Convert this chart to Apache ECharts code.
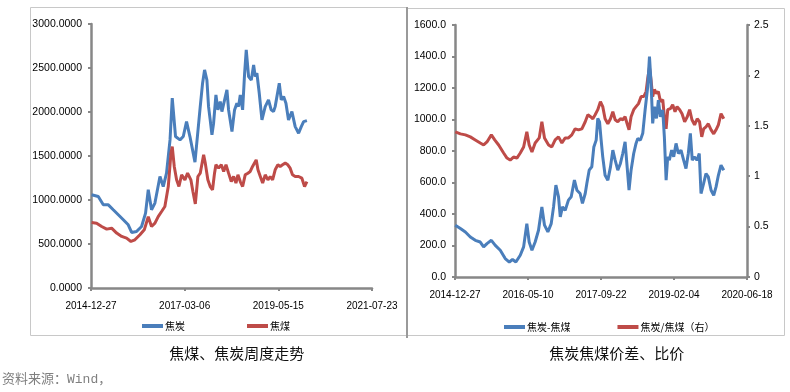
<!DOCTYPE html>
<html>
<head>
<meta charset="utf-8">
<script src="https://cdn.jsdelivr.net/npm/echarts@6/dist/echarts.min.js"></script>
<style>
html,body{margin:0;padding:0;background:#fff;}
#c{width:790px;height:392px;}
</style>
</head>
<body>
<div id="c"></div>
<script>
// ---- data (x = days since 2014-12-27, weekly prices) ----
const startDate = '2014-12-27';
const leftTickStep = 800;   // 2014-12-27, 2017-03-06, 2019-05-15, 2021-07-23
const rightTickStep = 500;  // 2014-12-27, 2016-05-10, 2017-09-22, 2019-02-04, 2020-06-18

const cokePrice = [[5,1059],[62,1040],[105,945],[148,945],[190,889],[233,832],[276,775],[318,718],[347,631],[389,642],[432,699],[466,851],[489,1116],[517,889],[546,965],[589,1267],[617,1153],[645,1305],[675,1683],[694,2157],[722,1721],[760,1683],[788,1721],[816,1891],[845,1721],[888,1430],[933,2061],[953,2327],[970,2478],[990,2364],[1004,2061],[1018,1910],[1033,1740],[1047,1873],[1067,2194],[1084,2024],[1104,2118],[1118,2005],[1141,2137],[1161,2251],[1175,2024],[1204,1778],[1226,2024],[1246,2100],[1260,2061],[1275,2194],[1295,2024],[1312,2440],[1326,2705],[1346,2402],[1369,2364],[1389,2534],[1403,2402],[1417,2440],[1437,2213],[1460,1910],[1488,2061],[1516,2137],[1539,2024],[1559,2005],[1573,2061],[1608,2327],[1625,2137],[1645,2175],[1665,2100],[1687,1910],[1716,2005],[1744,1834],[1773,1759],[1796,1834],[1816,1891],[1844,1902]];

const coalPrice = [[5,745],[48,737],[91,699],[134,669],[176,680],[219,624],[262,586],[304,567],[341,529],[375,548],[418,605],[455,661],[489,809],[517,699],[546,737],[574,812],[603,869],[631,926],[660,1153],[683,1532],[694,1607],[711,1381],[731,1229],[751,1153],[774,1286],[802,1229],[825,1305],[853,1229],[870,1100],[891,955],[913,1267],[933,1305],[962,1513],[976,1419],[998,1229],[1018,1153],[1038,1116],[1055,1305],[1067,1400],[1090,1362],[1113,1400],[1133,1324],[1153,1400],[1175,1305],[1198,1210],[1218,1267],[1238,1192],[1255,1286],[1275,1210],[1295,1153],[1317,1286],[1340,1305],[1360,1324],[1380,1381],[1397,1400],[1411,1456],[1426,1343],[1446,1267],[1466,1192],[1488,1286],[1511,1229],[1531,1267],[1551,1229],[1573,1343],[1596,1400],[1616,1381],[1636,1400],[1659,1419],[1681,1400],[1701,1362],[1721,1286],[1744,1267],[1773,1267],[1801,1248],[1824,1153],[1844,1210]];

const spread = [[2,329],[37,308],[71,286],[105,254],[139,233],[173,222],[196,191],[219,212],[249,233],[276,201],[310,170],[344,117],[372,95],[394,111],[417,95],[447,138],[470,191],[492,339],[508,222],[527,170],[549,222],[572,297],[595,445],[613,329],[636,286],[659,339],[675,445],[691,583],[709,509],[721,381],[736,445],[755,424],[777,488],[796,509],[818,615],[835,551],[857,530],[873,467],[892,530],[903,593],[919,678],[937,700],[951,826],[967,869],[978,1007],[990,985],[1001,869],[1012,763],[1028,646],[1047,615],[1065,699],[1081,805],[1097,742],[1115,678],[1133,721],[1149,784],[1165,858],[1179,699],[1192,551],[1206,678],[1224,784],[1240,848],[1252,880],[1270,869],[1286,912],[1302,1060],[1320,1208],[1332,1400],[1343,1229],[1354,975],[1366,1081],[1380,1007],[1393,1123],[1407,1017],[1423,1060],[1434,890],[1446,615],[1457,763],[1468,742],[1484,805],[1498,763],[1514,848],[1530,784],[1548,805],[1566,742],[1582,689],[1598,784],[1612,912],[1625,742],[1639,763],[1657,742],[1673,784],[1685,530],[1703,594],[1719,657],[1735,636],[1754,551],[1772,519],[1788,572],[1804,646],[1822,710],[1841,678]];

const ratio = [[2,1.44],[37,1.42],[71,1.41],[105,1.39],[139,1.36],[173,1.33],[196,1.31],[219,1.34],[249,1.41],[272,1.36],[299,1.31],[333,1.23],[356,1.18],[378,1.16],[401,1.19],[424,1.18],[447,1.23],[470,1.29],[492,1.44],[508,1.31],[527,1.24],[549,1.33],[577,1.38],[595,1.54],[613,1.38],[641,1.31],[663,1.29],[686,1.36],[709,1.39],[732,1.33],[755,1.38],[777,1.38],[800,1.41],[823,1.47],[846,1.46],[869,1.47],[892,1.54],[910,1.61],[928,1.59],[944,1.57],[960,1.61],[978,1.66],[996,1.74],[1012,1.69],[1028,1.57],[1047,1.52],[1065,1.57],[1081,1.64],[1097,1.56],[1115,1.54],[1133,1.57],[1149,1.56],[1165,1.59],[1179,1.52],[1192,1.46],[1206,1.59],[1224,1.66],[1240,1.69],[1257,1.72],[1275,1.79],[1293,1.79],[1309,1.84],[1320,1.97],[1332,2.08],[1343,1.95],[1354,1.79],[1366,1.86],[1380,1.82],[1393,1.84],[1407,1.74],[1423,1.76],[1434,1.59],[1446,1.47],[1457,1.66],[1475,1.67],[1491,1.71],[1507,1.64],[1521,1.69],[1539,1.66],[1555,1.62],[1573,1.54],[1591,1.59],[1607,1.66],[1623,1.56],[1641,1.51],[1659,1.57],[1675,1.54],[1690,1.39],[1703,1.47],[1719,1.49],[1735,1.52],[1754,1.46],[1772,1.42],[1788,1.46],[1804,1.51],[1822,1.62],[1841,1.57]];

const leftTitle = '焦煤、焦炭周度走势';
const rightTitle = '焦炭焦煤价差、比价';
const sourceNote = '资料来源：Wind，';

// ---- chart ----
const BLUE = '#4A7EBB', RED = '#BE4B48', AX = '#878787';
const numFont = "'Liberation Sans Narrow','Arial Narrow','Liberation Sans',sans-serif";
const cjkFont = "'Noto Sans CJK SC','Liberation Sans',sans-serif";
const base = Date.UTC(2014, 11, 27);
function dayLabel(d){ return new Date(base + d * 864e5).toISOString().slice(0, 10); }

function xAxis(grid, max, step){
  return {type:'value', gridIndex:grid, min:0, max:max, interval:step,
    axisLine:{show:true, lineStyle:{color:AX, width:2.5}},
    axisTick:{show:true, length:3, lineStyle:{color:AX, width:2}},
    splitLine:{show:false},
    axisLabel:{formatter:dayLabel, color:'#000', fontSize:10, fontFamily:numFont, margin:13}};
}
function yAxis(grid, max, step, dec, pos){
  return {type:'value', gridIndex:grid, min:0, max:max, interval:step, position:pos||'left',
    axisLine:{show:true, lineStyle:{color:AX, width:2.5}},
    axisTick:{show:true, length:3, lineStyle:{color:AX, width:2}},
    splitLine:{show:false},
    axisLabel:{formatter:v => dec == null ? String(+v.toFixed(1)) : v.toFixed(dec),
      color:'#000', fontSize:10.5, fontFamily:numFont, margin: pos === 'right' ? 7 : 9}};
}
function line(name, data, color, xi, yi){
  return {name, type:'line', data, xAxisIndex:xi, yAxisIndex:yi, showSymbol:false, symbol:'none',
    lineStyle:{color, width:3}, itemStyle:{color}, smooth:false, animation:false};
}
function legend(items, left, top, gap){
  return {data:items, left, top, orient:'horizontal', icon:'rect', itemWidth:21, itemHeight:4, itemGap:gap,
    textStyle:{fontSize:10, fontFamily:cjkFont, color:'#000', padding:[0,0,0,-3]}};
}

const chart = echarts.init(document.getElementById('c'), null, {renderer:'canvas'});
chart.setOption({
  animation:false,
  backgroundColor:'#fff',
  grid:[
    {left:91, top:24, width:281, height:264},
    {left:455, top:25, width:292, height:252}
  ],
  xAxis:[xAxis(0, 2400, leftTickStep), xAxis(1, 2000, rightTickStep)],
  yAxis:[yAxis(0, 3000, 500, 4), yAxis(1, 1600, 200, 1), yAxis(1, 2.5, 0.5, null, 'right')],
  legend:[legend(['焦炭','焦煤'], 137, 316, 62), legend(['焦炭-焦煤','焦炭/焦煤（右）'], 499, 317, 47)],
  series:[
    line('焦炭', cokePrice, BLUE, 0, 0),
    line('焦煤', coalPrice, RED, 0, 0),
    line('焦炭/焦煤（右）', ratio, RED, 1, 2),
    line('焦炭-焦煤', spread, BLUE, 1, 1)
  ],
  graphic:[
    {type:'rect', shape:{x:30.5, y:7.5, width:376, height:328}, style:{fill:'none', stroke:'#c8c8c8', lineWidth:1}, silent:true},
    {type:'rect', shape:{x:407.5, y:8.5, width:377, height:327}, style:{fill:'none', stroke:'#c8c8c8', lineWidth:1}, silent:true},
    {type:'line', shape:{x1:407, y1:7, x2:407, y2:338}, style:{stroke:'#9a9a9a', lineWidth:2}, silent:true},
    {type:'text', x:236.7, y:353, style:{text:leftTitle, fontSize:15, fontFamily:cjkFont, fill:'#111', align:'center', verticalAlign:'middle'}},
    {type:'text', x:616.7, y:353, style:{text:rightTitle, fontSize:15, fontFamily:cjkFont, fill:'#111', align:'center', verticalAlign:'middle'}},
    {type:'text', x:2, y:380, style:{text:sourceNote, fontSize:13, fontFamily:"'Liberation Mono','Noto Sans CJK SC',monospace", fill:'#808080', align:'left', verticalAlign:'middle'}}
  ]
});
</script>
</body>
</html>
